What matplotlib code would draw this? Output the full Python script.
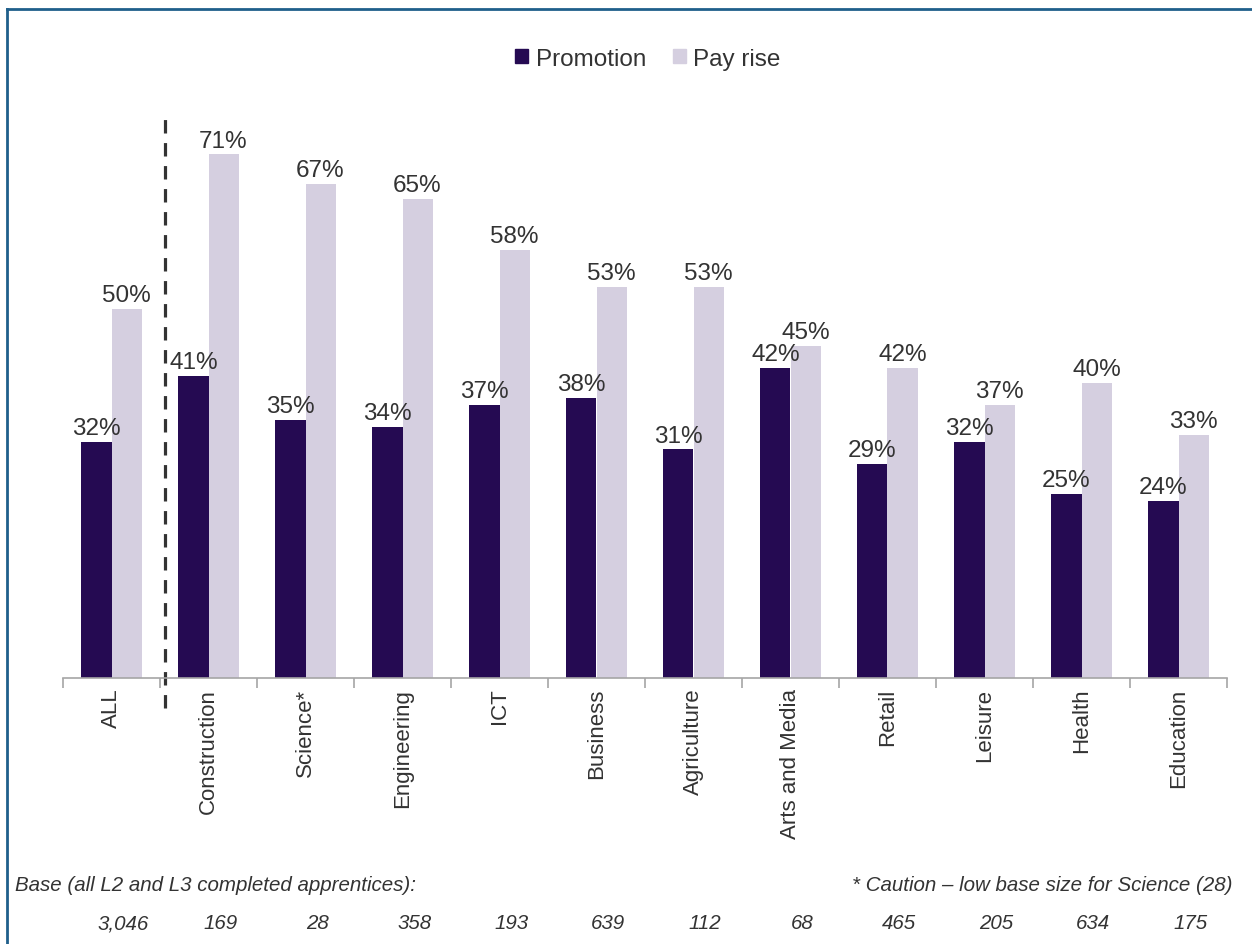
import matplotlib.pyplot as plt
from matplotlib.lines import Line2D
from matplotlib.patches import Patch
import numpy as np

plt.rcParams['font.family'] = ['Liberation Sans', 'DejaVu Sans']

categories = ["ALL", "Construction", "Science*", "Engineering", "ICT", "Business",
              "Agriculture", "Arts and Media", "Retail", "Leisure", "Health", "Education"]
promotion = [32, 41, 35, 34, 37, 38, 31, 42, 29, 32, 25, 24]
pay_rise = [50, 71, 67, 65, 58, 53, 53, 45, 42, 37, 40, 33]
base_sizes = ["3,046", "169", "28", "358", "193", "639", "112", "68", "465", "205", "634", "175"]

col_promo = "#250A52"
col_pay = "#D5CFE0"
txt = "#333333"

fig = plt.figure(figsize=(12.52, 9.45), dpi=100)
ax = fig.add_axes([63 / 1252, 1 - 679 / 945, 1164 / 1252, 590 / 945])

x = np.arange(len(categories))
w = 0.31
b1 = ax.bar(x - w / 2, promotion, w, color=col_promo)
b2 = ax.bar(x + w / 2, pay_rise, w, color=col_pay)

# percentage labels above the bars
for bars, vals in [(b1, promotion), (b2, pay_rise)]:
    for b, v in zip(bars, vals):
        ax.annotate(f"{v}%", (b.get_x() + b.get_width() / 2, v), xytext=(0, 2),
                    textcoords="offset points", ha="center", va="bottom",
                    fontsize=17.5, color=txt)

ax.set_xlim(-0.5, len(categories) - 0.5)
ax.set_ylim(0, 80)
ax.set_yticks([])
for s in ["top", "right", "left"]:
    ax.spines[s].set_visible(False)
ax.spines["bottom"].set_color("#A6A6A6")
ax.spines["bottom"].set_linewidth(1.2)

ax.set_xticks(x)
ax.set_xticklabels(categories, rotation=90, fontsize=16, color=txt)
ax.tick_params(axis="x", which="major", length=0, pad=7)
ax.set_xticks(np.arange(-0.5, len(categories)), minor=True)
ax.tick_params(axis="x", which="minor", length=7, color="#A6A6A6", width=1.2)

# dashed separator between ALL and the sectors
ax.plot([0.55, 0.55], [-4, 76.8], color="#333333", lw=2.3, dashes=(4.2, 3),
        clip_on=False)

handles = [Patch(color=col_promo, label="Promotion"), Patch(color=col_pay, label="Pay rise")]
leg = fig.legend(handles=handles, loc="center", bbox_to_anchor=(0.5175, 0.937), ncol=2,
                 frameon=False, fontsize=17.5, handlelength=0.55, handleheight=0.55,
                 handletextpad=0.3, columnspacing=1.1)
for t in leg.get_texts():
    t.set_color(txt)

# base sizes
fig.text(15 / 1252, 1 - 886 / 945, "Base (all L2 and L3 completed apprentices):",
         style="italic", fontsize=14.8, color=txt, va="center", ha="left")
fig.text(1232 / 1252, 1 - 886 / 945, "* Caution \u2013 low base size for Science (28)",
         style="italic", fontsize=14.8, color=txt, va="center", ha="right")
trans = ax.get_xaxis_transform()
for i, n in enumerate(base_sizes):
    ax.text(i + 0.12, -(924 - 679) / 590, n, transform=trans, style="italic",
            fontsize=14.8, color=txt, ha="center", va="center")

# frame lines
fig.add_artist(Line2D([7 / 1252, 1], [1 - 10 / 945, 1 - 10 / 945], color="#1F5F8B",
                      lw=2, transform=fig.transFigure))
fig.add_artist(Line2D([7 / 1252, 7 / 1252], [0, 1 - 10 / 945], color="#1F5F8B",
                      lw=2, transform=fig.transFigure))

fig.savefig("out.png", dpi=100)
